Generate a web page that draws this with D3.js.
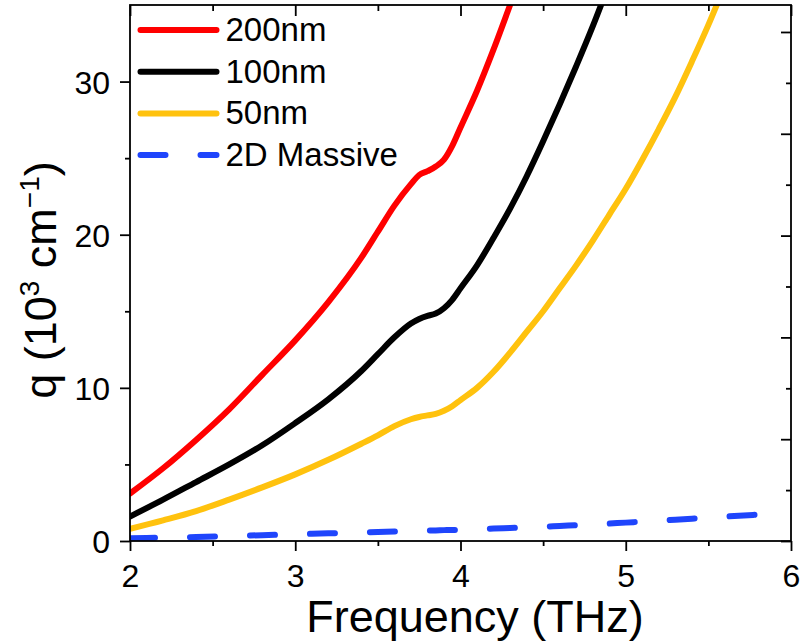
<!DOCTYPE html>
<html>
<head>
<meta charset="utf-8">
<script src="https://cdn.jsdelivr.net/npm/d3@7"></script>
<style>
    html, body { margin: 0; padding: 0; background: #fff; }
    svg { display: block; font-family: "Liberation Sans", Arial, sans-serif; }
</style>
</head>
<body>
<svg id="chart" width="809" height="643"></svg>
<script>
// Data (frequency in THz, q in 10^3 cm^-1)
const freq = [2.0, 2.2, 2.4, 2.6, 2.8, 3.0, 3.2, 3.4, 3.5, 3.6, 3.7, 3.75, 3.8, 3.85, 3.9, 3.95,
    4.0, 4.1, 4.2, 4.3, 4.4, 4.5, 4.6, 4.7, 4.8, 4.9, 5.0, 5.1, 5.2, 5.3, 5.4, 5.5, 5.6, 5.8, 6.0];

const q200 = [3.1, 4.75, 6.6, 8.6, 10.85, 13.1, 15.6, 18.5, 20.2, 21.9, 23.3, 23.9, 24.15, 24.45, 24.9, 25.8,
    27.0, 29.4, 32.1, 35.0, 38.0, null, null, null, null, null, null, null, null, null, null, null, null, null, null];

const q100 = [1.6, 2.7, 3.85, 5.0, 6.25, 7.7, 9.25, 11.1, 12.2, 13.3, 14.2, 14.5, 14.7, 14.85, 15.2, 15.75,
    16.5, 18.0, 19.8, 21.7, 23.8, 26.1, 28.5, 31.0, 33.6, 36.4, null, null, null, null, null, null, null, null, null];

const q50 = [0.8, 1.35, 1.95, 2.7, 3.5, 4.35, 5.3, 6.35, 6.9, 7.5, 7.95, 8.1, 8.2, 8.3, 8.5, 8.8,
    9.2, 10.0, 11.05, 12.3, 13.65, 15.0, 16.5, 18.0, 19.6, 21.3, 23.0, 24.9, 26.9, 29.0, 31.3, 33.7, 36.3, null, null];

// dashed curve stops short of 6 THz in the reference
const qMassive = [0.18, 0.22, 0.26, 0.32, 0.38, 0.44, 0.5, 0.56, 0.59, 0.62, 0.65, 0.66, 0.68, 0.69, 0.71, 0.72,
    0.74, 0.78, 0.81, 0.85, 0.89, 0.93, 0.98, 1.03, 1.08, 1.14, 1.2, 1.26, 1.32, 1.39, 1.46, 1.53, 1.6, 1.72, null];

const seriesNames = ['200nm', '100nm', '50nm', '2D Massive'];
const seriesValues = [q200, q100, q50, qMassive];

const xTicks = [2, 3, 4, 5, 6];
const xMinorTicks = [2.5, 3.5, 4.5, 5.5];
const yTicks = [0, 10, 20, 30];
const yMinorTicks = [5, 15, 25];
// right axis belongs to a separate layer in the original, with its own spacing
const yRightTicks = [0, 1, 2, 3, 4, 5];
const yRightMinorTicks = [0.5, 1.5, 2.5, 3.5, 4.5];

// Styling
const colors = ['#ff0000', '#000000', '#ffc20e', '#1f45fc'];
const dashes = [null, null, null, '25,35'];

const plot = { left: 130, right: 791, top: 5, bottom: 541 };

const svg = d3.select('#chart');

const x = d3.scaleLinear().domain([2, 6]).range([plot.left, plot.right]);
const y = d3.scaleLinear().domain([0, 35]).range([plot.bottom, plot.top]);
const yRight = d3.scaleLinear().domain([0, 5.265]).range([plot.bottom, plot.top]);

svg.append('defs').append('clipPath')
    .attr('id', 'plot-clip')
    .append('rect')
    .attr('x', plot.left)
    .attr('y', plot.top)
    .attr('width', plot.right - plot.left)
    .attr('height', plot.bottom - plot.top);

// Series lines
const line = d3.line()
    .defined(d => d.q != null)
    .x(d => x(d.f))
    .y(d => y(d.q))
    .curve(d3.curveMonotoneX);

const lines = svg.append('g').attr('clip-path', 'url(#plot-clip)');
seriesValues.forEach((vals, i) => {
    const pts = freq.map((f, j) => ({ f: f, q: vals[j] }));
    lines.append('path')
        .datum(pts)
        .attr('fill', 'none')
        .attr('stroke', colors[i])
        .attr('stroke-width', 6)
        .attr('stroke-linecap', 'round')
        .attr('stroke-linejoin', 'round')
        .attr('stroke-dasharray', dashes[i])
        .attr('d', line);
});

// Axes
function styleAxis(g) {
    g.select('.domain').remove();
    g.selectAll('line').attr('stroke', '#000').attr('stroke-width', 1.8);
    g.selectAll('text').attr('fill', '#000').attr('font-size', 32);
}

svg.append('g')
    .attr('transform', `translate(0,${plot.bottom})`)
    .call(d3.axisBottom(x).tickValues(xTicks).tickSize(10).tickFormat(d3.format('d')))
    .call(styleAxis)
    .call(g => g.selectAll('text').attr('y', 23).attr('dy', '0.71em'));

svg.append('g')
    .attr('transform', `translate(0,${plot.bottom})`)
    .call(d3.axisBottom(x).tickValues(xMinorTicks).tickSize(5).tickFormat(''))
    .call(styleAxis);

svg.append('g')
    .attr('transform', `translate(0,${plot.top})`)
    .call(d3.axisTop(x).tickValues(xTicks).tickSize(-11).tickFormat(''))
    .call(styleAxis);

svg.append('g')
    .attr('transform', `translate(0,${plot.top})`)
    .call(d3.axisTop(x).tickValues(xMinorTicks).tickSize(-6).tickFormat(''))
    .call(styleAxis);

svg.append('g')
    .attr('transform', `translate(${plot.left},0)`)
    .call(d3.axisLeft(y).tickValues(yTicks).tickSize(10).tickPadding(10).tickFormat(d3.format('d')))
    .call(styleAxis)
    .call(g => g.selectAll('text').attr('dy', '0.37em'));

svg.append('g')
    .attr('transform', `translate(${plot.left},0)`)
    .call(d3.axisLeft(y).tickValues(yMinorTicks).tickSize(5).tickFormat(''))
    .call(styleAxis);

svg.append('g')
    .attr('transform', `translate(${plot.right},0)`)
    .call(d3.axisRight(yRight).tickValues(yRightTicks).tickSize(-10).tickFormat(''))
    .call(styleAxis);

svg.append('g')
    .attr('transform', `translate(${plot.right},0)`)
    .call(d3.axisRight(yRight).tickValues(yRightMinorTicks).tickSize(-5).tickFormat(''))
    .call(styleAxis);

// Frame
svg.append('rect')
    .attr('x', plot.left)
    .attr('y', plot.top)
    .attr('width', plot.right - plot.left)
    .attr('height', plot.bottom - plot.top)
    .attr('fill', 'none')
    .attr('stroke', '#000')
    .attr('stroke-width', 1.8);

// Axis titles
svg.append('text')
    .attr('x', 475)
    .attr('y', 632)
    .attr('text-anchor', 'middle')
    .attr('font-size', 45)
    .text('Frequency (THz)');

const yTitle = svg.append('text')
    .attr('transform', 'translate(56,280) rotate(-90)')
    .attr('text-anchor', 'middle')
    .attr('font-size', 45);
yTitle.append('tspan').text('q (10');
yTitle.append('tspan').attr('font-size', 28).attr('dy', -17).text('3');
yTitle.append('tspan').attr('dy', 17).text(' cm');
yTitle.append('tspan').attr('font-size', 28).attr('dy', -17).text('\u22121');
yTitle.append('tspan').attr('dy', 17).text(')');

// Legend
const legend = svg.append('g').attr('transform', 'translate(140.5,30)');
seriesNames.forEach((name, i) => {
    const row = legend.append('g').attr('transform', `translate(0,${i * 41.7})`);
    row.append('line')
        .attr('x1', 0)
        .attr('x2', 76)
        .attr('stroke', colors[i])
        .attr('stroke-width', 6)
        .attr('stroke-linecap', 'round')
        .attr('stroke-dasharray', dashes[i]);
    row.append('text')
        .attr('x', 85)
        .attr('y', 11)
        .attr('font-size', 33)
        .text(name);
});
</script>
</body>
</html>
